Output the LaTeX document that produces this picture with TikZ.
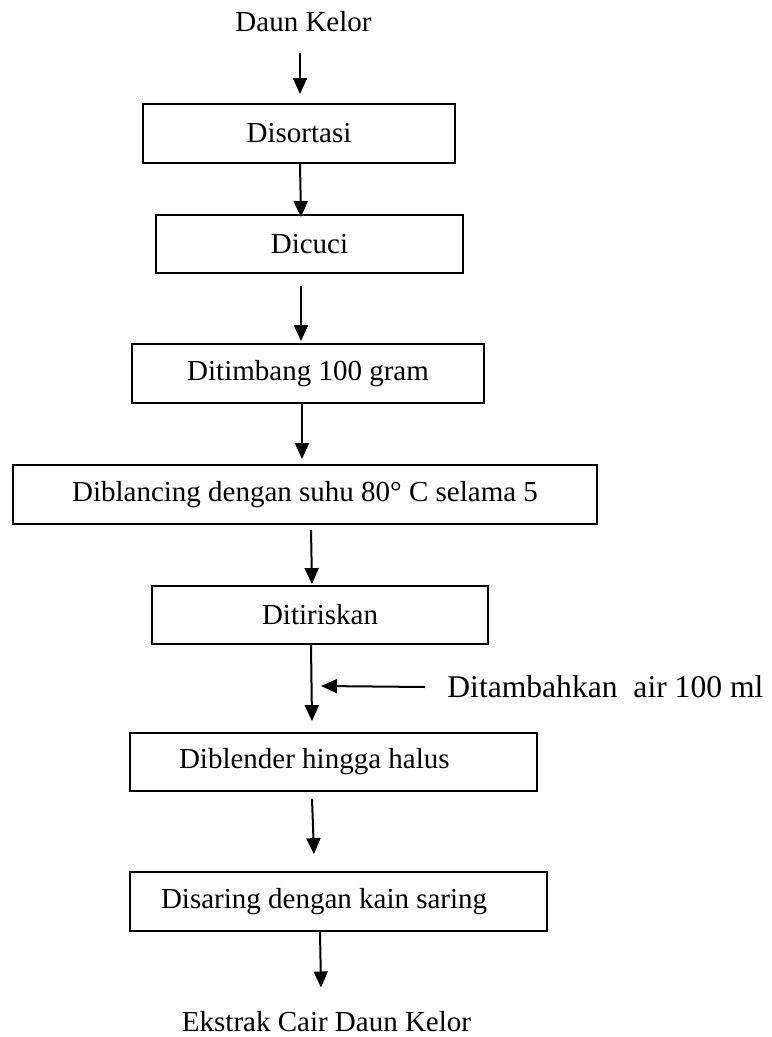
\documentclass[tikz,border=0pt]{standalone}
\usepackage{fontspec}
\setmainfont{Liberation Serif}
\usetikzlibrary{arrows.meta}

\begin{document}
\begin{tikzpicture}[x=0.5pt,y=-0.5pt,
  proc/.style={draw,line width=0.9pt,minimum height=29.5pt,inner sep=0pt,font=\fontsize{14.5}{17}\selectfont},
  lbl/.style={inner sep=0pt,font=\fontsize{14.5}{17}\selectfont},
  flow/.style={line width=1pt,-{Triangle[length=8pt,width=7pt]}}]
  \useasboundingbox (0,0) rectangle (771,1037);
  \node[lbl,anchor=base] (daun) at (303.5,32) {Daun Kelor};
  \node[proc,minimum width=156pt] (sortasi) at (299,133.5) {Disortasi};
  \node[proc,minimum width=153.5pt,minimum height=29pt] (cuci) at (309.5,244) {Dicuci};
  \node[proc,minimum width=176pt] (timbang) at (308,373.5) {Ditimbang 100 gram};
  \node[proc,minimum width=292pt] (blansir) at (305,494.5) {Diblancing dengan suhu 80° C selama 5};
  \node[proc,minimum width=168pt,minimum height=29pt] (tiris) at (320,615) {Ditiriskan};
  \node[proc,minimum height=29pt,text width=154.5pt,inner xsep=24.5pt,align=flush left] (blender) at (333.5,762) {Diblender hingga halus};
  \node[proc,text width=177.5pt,inner xsep=15.5pt,align=flush left] (saring) at (338.5,901.5) {Disaring dengan kain saring};
  \node[lbl,anchor=base] (ekstrak) at (326.5,1031) {Ekstrak Cair Daun Kelor};
  \node[lbl,anchor=west,font=\fontsize{15.8}{19}\selectfont] (air) at (447,687) {Ditambahkan\ \ air 100 ml};
  \coordinate (masuk) at (321,686);
  % alur proses
  \draw[flow] ([xshift=-1.75pt,yshift=-10pt]daun.south) -- ([xshift=0.5pt,yshift=4.5pt]sortasi.north);
  \draw[flow] ([xshift=0.5pt]sortasi.south) -- ([xshift=-4.25pt,yshift=-1.5pt]cuci.north);
  \draw[flow] ([xshift=-4.25pt,yshift=-6pt]cuci.south) -- ([xshift=-3.5pt,yshift=1pt]timbang.north);
  \draw[flow] ([xshift=-3pt]timbang.south) -- ([xshift=-1.5pt,yshift=2.5pt]blansir.north);
  \draw[flow] ([xshift=3pt,yshift=-2.5pt]blansir.south) -- ([xshift=-4pt,yshift=0.5pt]tiris.north);
  \draw[flow] ([xshift=-4.5pt]tiris.south) -- ([xshift=-10.75pt,yshift=5.5pt]blender.north);
  \draw[flow] ([xshift=-11pt]air.west) -- (masuk);
  \draw[flow] ([xshift=-10.75pt,yshift=-3.5pt]blender.south) -- ([xshift=-12.25pt,yshift=8.5pt]saring.north);
  \draw[flow] ([xshift=-9.25pt]saring.south) -- ([xshift=-2.75pt,yshift=11.5pt]ekstrak.north);
\end{tikzpicture}
\end{document}
